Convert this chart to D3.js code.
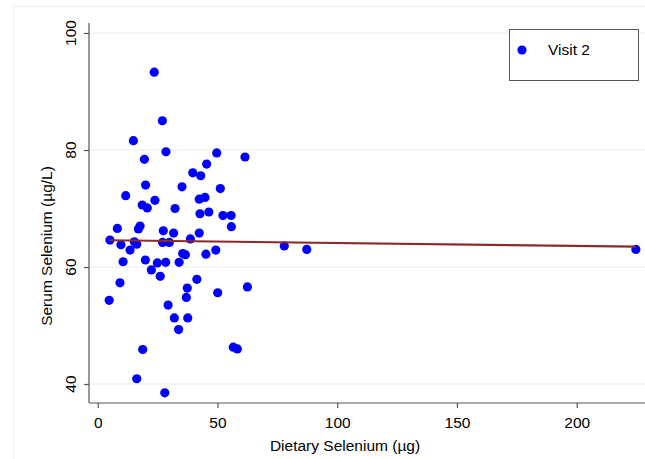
<!DOCTYPE html>
<html><head><meta charset="utf-8">
<script src="https://cdn.jsdelivr.net/npm/d3@7"></script>
<style>body{margin:0;background:#fff}svg{display:block;font-family:"Liberation Sans",Arial,sans-serif}</style>
</head><body><svg id="c" width="645" height="459"></svg>
<script>
const dietary = [23.6,27.0,14.9,28.5,19.5,49.7,61.5,45.5,39.7,43.0,20.0,11.7,18.6,20.7,23.9,8.2,17.0,17.7,27.4,5.1,9.7,13.5,15.3,16.3,27.1,10.6,19.9,22.4,24.9,28.4,26.1,9.3,4.8,35.2,51.2,42.4,44.8,32.3,42.7,46.4,52.3,55.7,55.8,31.7,42.4,38.7,29.9,35.5,36.6,45.2,49.3,34.0,41.4,37.4,50.1,62.5,37.0,29.4,32.0,37.6,33.8,56.6,58.3,28.0,18.8,16.3,77.9,87.3,224.7];
const serum = [93.3,85.0,81.6,79.7,78.4,79.5,78.8,77.6,76.1,75.6,74.0,72.2,70.6,70.1,71.4,66.6,66.5,67.0,66.2,64.6,63.8,62.9,64.3,63.9,64.2,60.9,61.2,59.5,60.7,60.8,58.4,57.3,54.3,73.7,73.4,71.6,71.9,70.0,69.1,69.4,68.8,68.8,66.9,65.8,65.8,64.8,64.2,62.3,62.1,62.2,62.9,60.8,57.9,56.4,55.6,56.6,54.8,53.5,51.3,51.3,49.3,46.3,46.0,38.5,45.9,40.9,63.6,63.0,63.0];
const xTicks = [0,50,100,150,200];
const yTicks = [40,60,80,100];
const fitIntercept = 64.6;
const fitSlope = -0.005;
const seriesName = "Visit 2";
const xTitle = "Dietary Selenium (µg)";
const yTitle = "Serum Selenium (µg/L)";

const FS = 15.5;
const svg = d3.select("#c");
const x = d3.scaleLinear().domain([0,200]).range([97.7,576.7]);
const y = d3.scaleLinear().domain([40,100]).range([384,33]);
const L = 89, R = 645, T = 23, B = 403;

// outer faint frame
svg.append("rect").attr("x",13.5).attr("y",6.5).attr("width",700).attr("height",500)
  .attr("fill","none").attr("stroke","#efefef");

// gridlines
svg.append("g").selectAll("line").data(yTicks).join("line")
  .attr("x1",L).attr("x2",R).attr("y1",d=>y(d)).attr("y2",d=>y(d))
  .attr("stroke","#e8eff1").attr("stroke-width",1);

// axes
const axisCol = "#555";
svg.append("line").attr("x1",L).attr("x2",L).attr("y1",T).attr("y2",B).attr("stroke",axisCol).attr("stroke-width",1.2);
svg.append("line").attr("x1",L).attr("x2",R).attr("y1",B).attr("y2",B).attr("stroke",axisCol).attr("stroke-width",1.2);

const xAxis = d3.axisBottom(x).tickValues(xTicks).tickSize(5).tickPadding(9);
const gx = svg.append("g").attr("transform",`translate(0,${B})`).call(xAxis);
gx.select(".domain").remove();
gx.selectAll(".tick line").attr("stroke",axisCol).attr("stroke-width",1.2);
gx.selectAll(".tick text").attr("font-size",FS).attr("fill","#000").attr("font-family","Liberation Sans, Arial, sans-serif");

const yAxis = d3.axisLeft(y).tickValues(yTicks).tickSize(5).tickFormat("");
const gy = svg.append("g").attr("transform",`translate(${L},0)`).call(yAxis);
gy.select(".domain").remove();
gy.selectAll(".tick line").attr("stroke",axisCol).attr("stroke-width",1.2);
svg.append("g").selectAll("text").data(yTicks).join("text")
  .attr("transform",d=>`translate(71,${y(d)}) rotate(-90)`)
  .attr("text-anchor","middle").attr("dy","0.35em").attr("font-size",FS).attr("fill","#000")
  .text(d=>d);

// titles
svg.append("text").attr("x",345).attr("y",451).attr("text-anchor","middle").attr("font-size",FS).text(xTitle);
svg.append("text").attr("transform","translate(47,246) rotate(-90)").attr("text-anchor","middle")
  .attr("dy","0.35em").attr("font-size",FS).text(yTitle);

// points
svg.append("g").selectAll("circle").data(dietary.map((d,i)=>[d,serum[i]])).join("circle")
  .attr("cx",d=>x(d[0])).attr("cy",d=>y(d[1])).attr("r",4.6).attr("fill","#0000ff");

// fit line
const xe = d3.extent(dietary);
svg.append("line").attr("x1",x(xe[0])).attr("x2",x(xe[1]))
  .attr("y1",y(fitIntercept+fitSlope*xe[0])).attr("y2",y(fitIntercept+fitSlope*xe[1]))
  .attr("stroke","#8b2a2a").attr("stroke-width",2.2);

// legend
svg.append("rect").attr("x",509.5).attr("y",29.5).attr("width",129).attr("height",51)
  .attr("fill","#fff").attr("stroke","#555").attr("stroke-width",1);
svg.append("circle").attr("cx",522).attr("cy",50).attr("r",4.6).attr("fill","#0000ff");
svg.append("text").attr("x",548).attr("y",50).attr("dy","0.35em").attr("font-size",FS).text(seriesName);
</script></body></html>
